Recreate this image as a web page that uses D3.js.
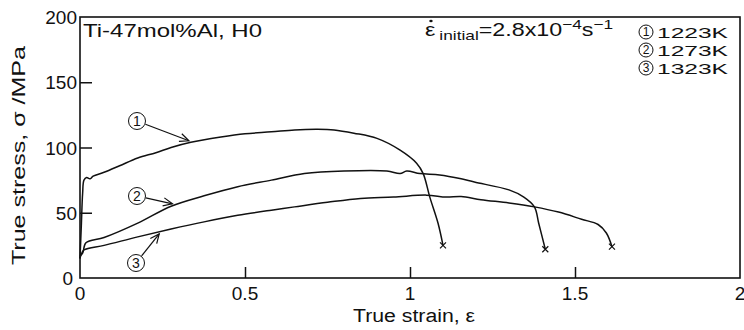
<!DOCTYPE html>
<html>
<head>
<meta charset="utf-8">
<script src="https://cdn.jsdelivr.net/npm/d3@7"></script>
<style>
  html, body { margin: 0; padding: 0; background: #fff; }
  svg { display: block; }
  text { font-family: "Liberation Sans", Arial, "Noto Sans CJK JP", sans-serif; fill: #111; }
</style>
</head>
<body>
<svg id="chart" width="744" height="330"></svg>
<script>
// Stress–strain curves of Ti-47mol%Al (H0) at three test temperatures
const temps = ["1223K", "1273K", "1323K"];
const markDigits = ["1", "2", "3"];

const strain1223 = [0.000, 0.004, 0.008, 0.012, 0.020, 0.030, 0.040, 0.073, 0.120, 0.175, 0.230, 0.276, 0.336, 0.427, 0.500, 0.580, 0.650, 0.720, 0.770, 0.830, 0.900, 0.970, 1.020, 1.040, 1.060, 1.085, 1.100];
const stress1223 = [15, 40, 65, 75, 77, 76, 78, 81, 86, 92, 96, 100, 104, 108, 110.5, 112, 113.5, 114, 113.5, 111, 107, 98, 88, 80, 62, 42, 25];

const strain1273 = [0.000, 0.008, 0.018, 0.073, 0.175, 0.276, 0.376, 0.478, 0.580, 0.680, 0.800, 0.930, 0.970, 0.990, 1.030, 1.090, 1.155, 1.195, 1.300, 1.345, 1.377, 1.390, 1.410];
const stress1273 = [17, 19, 27, 31, 42, 55, 63, 70, 75, 80, 82, 82, 80, 82, 80, 79, 76, 73.5, 67.5, 62, 54.5, 42, 22];

const strain1323 = [0.000, 0.003, 0.012, 0.073, 0.175, 0.276, 0.376, 0.478, 0.580, 0.650, 0.750, 0.850, 0.950, 1.050, 1.110, 1.155, 1.215, 1.300, 1.377, 1.450, 1.520, 1.570, 1.595, 1.612];
const stress1323 = [15, 17.6, 21.5, 25, 31.5, 37.5, 43, 48, 52, 54.5, 58, 61, 62, 63.5, 62, 62.5, 60, 57.5, 54.5, 50.5, 45, 41, 34.5, 24];

const xTicks = [0, 0.5, 1, 1.5, 2];
const xTickLabels = ["0", "0.5", "1", "1.5", "2"];
const yTicks = [0, 50, 100, 150, 200];
const yTickLabels = ["0", "50", "100", "150", "200"];

// Strain at which each circled-number arrow meets its curve
const calloutStrain = [0.33, 0.28, 0.24];

const svg = d3.select("#chart");
const margin = { left: 80, right: 4, top: 17, bottom: 52 };
const W = 744, H = 330;

const x = d3.scaleLinear().domain([0, 2]).range([margin.left, W - margin.right]);
const y = d3.scaleLinear().domain([0, 200]).range([H - margin.bottom, margin.top]);

const ink = "#111";

// Frame
svg.append("rect")
  .attr("x", x(0)).attr("y", y(200))
  .attr("width", x(2) - x(0)).attr("height", y(0) - y(200))
  .attr("fill", "none").attr("stroke", ink).attr("stroke-width", 1.6);

// Inward ticks, labels drawn separately
const xAxis = d3.axisBottom(x).tickValues(xTicks.slice(1, -1)).tickSize(-11).tickFormat("");
svg.append("g").attr("transform", `translate(0,${y(0)})`).call(xAxis)
  .call(g => g.select(".domain").remove())
  .call(g => g.selectAll("line").attr("stroke", ink).attr("stroke-width", 1.5));

const yAxis = d3.axisLeft(y).tickValues(yTicks.slice(1, -1)).tickSize(-12).tickFormat("");
svg.append("g").attr("transform", `translate(${x(0)},0)`).call(yAxis)
  .call(g => g.select(".domain").remove())
  .call(g => g.selectAll("line").attr("stroke", ink).attr("stroke-width", 1.5));

svg.append("g").selectAll("text").data(xTicks).join("text")
  .attr("x", d => x(d)).attr("y", y(0) + 22)
  .attr("text-anchor", "middle").attr("font-size", 19)
  .text((d, i) => xTickLabels[i]);

svg.append("g").selectAll("text").data(yTicks).join("text")
  .attr("x", d => d === 0 ? x(0) - 7 : x(0) - 3).attr("y", d => y(d) + 7)
  .attr("text-anchor", "end").attr("font-size", 19)
  .text((d, i) => yTickLabels[i]);

// Axis titles (the typeface used here runs wide, so widths are fixed)
svg.append("text")
  .attr("x", 353).attr("y", 322).attr("font-size", 18)
  .attr("textLength", 122).attr("lengthAdjust", "spacingAndGlyphs")
  .text("True strain, \u03b5");

svg.append("text")
  .attr("transform", "translate(25,265) rotate(-90)")
  .attr("font-size", 18)
  .attr("textLength", 219).attr("lengthAdjust", "spacingAndGlyphs")
  .text("True stress, \u03c3 /MPa");

// Curves
const series = [
  { strain: strain1223, stress: stress1223 },
  { strain: strain1273, stress: stress1273 },
  { strain: strain1323, stress: stress1323 }
];

const line = d3.line()
  .x(d => x(d[0])).y(d => y(d[1]))
  .curve(d3.curveCatmullRom.alpha(0.5));

series.forEach(s => {
  const pts = s.strain.map((e, i) => [e, s.stress[i]]);
  svg.append("path").datum(pts)
    .attr("d", line)
    .attr("fill", "none").attr("stroke", ink).attr("stroke-width", 1.5)
    .attr("stroke-linejoin", "round");
  // fracture mark
  const end = pts[pts.length - 1];
  const cx = x(end[0]), cy = y(end[1]), r = 3;
  svg.append("path")
    .attr("d", `M${cx - r},${cy - r}L${cx + r},${cy + r}M${cx - r},${cy + r}L${cx + r},${cy - r}`)
    .attr("stroke", ink).attr("stroke-width", 1.2);
});

// Small circled digit used by the callouts and the key
function circledDigit(g, cx, cy, r, digit, size) {
  g.append("circle").attr("cx", cx).attr("cy", cy).attr("r", r)
    .attr("fill", "#fff").attr("stroke", ink).attr("stroke-width", 1);
  g.append("text").attr("x", cx).attr("y", cy + size * 0.35)
    .attr("text-anchor", "middle").attr("font-size", size)
    .attr("font-family", "Liberation Serif, serif")
    .text(digit);
}

// Circled-number callouts with open arrowheads
function interpStress(s, e) {
  return d3.scaleLinear().domain(s.strain).range(s.stress)(e);
}
const calloutPos = [[137, 121], [137, 196], [136, 263]];
series.forEach((s, i) => {
  const [lx, ly] = calloutPos[i];
  const tx = x(calloutStrain[i]), ty = y(interpStress(s, calloutStrain[i])) + (i === 2 ? 2 : -2);
  const ang = Math.atan2(ty - ly, tx - lx);
  const sx = lx + 9 * Math.cos(ang), sy = ly + 9 * Math.sin(ang);
  svg.append("line").attr("x1", sx).attr("y1", sy).attr("x2", tx).attr("y2", ty)
    .attr("stroke", ink).attr("stroke-width", 1.2);
  const h = 10, spread = 0.42;
  svg.append("path")
    .attr("d", `M${tx - h * Math.cos(ang - spread)},${ty - h * Math.sin(ang - spread)}L${tx},${ty}L${tx - h * Math.cos(ang + spread)},${ty - h * Math.sin(ang + spread)}`)
    .attr("fill", "none").attr("stroke", ink).attr("stroke-width", 1.2);
  circledDigit(svg, lx, ly, 8.5, markDigits[i], 14);
});

// Specimen label
svg.append("text").attr("x", 83).attr("y", 37).attr("font-size", 18.5)
  .attr("textLength", 179).attr("lengthAdjust", "spacingAndGlyphs")
  .text("Ti-47mol%Al, H0");

// Strain-rate label, drawn in a horizontally widened group
const rateG = svg.append("g").attr("transform", "translate(425,36) scale(1.33,1)");
const rate = rateG.append("text").attr("x", 0).attr("y", 0).attr("font-size", 17.5);
rate.append("tspan").text("\u03b5");
rate.append("tspan").attr("font-size", 13).attr("dx", 3).attr("dy", 4).text("initial");
rate.append("tspan").attr("dy", -4).text("=2.8x10");
rate.append("tspan").attr("font-size", 13).attr("dy", -7).text("\u22124");
rate.append("tspan").attr("dy", 7).text("s");
rate.append("tspan").attr("font-size", 13).attr("dy", -7).text("\u22121");
// dot over the epsilon
rateG.append("circle").attr("cx", 4.5).attr("cy", -15).attr("r", 1.3).attr("fill", ink);

// Temperature key: circled number, then temperature
const key = svg.append("g");
temps.forEach((t, i) => {
  const by = 38 + i * 18;
  circledDigit(key, 646, by - 6, 7, markDigits[i], 12);
  key.append("text")
    .attr("x", 657).attr("y", by)
    .attr("font-size", 15.5)
    .attr("textLength", 71).attr("lengthAdjust", "spacingAndGlyphs")
    .text(t);
});
</script>
</body>
</html>
